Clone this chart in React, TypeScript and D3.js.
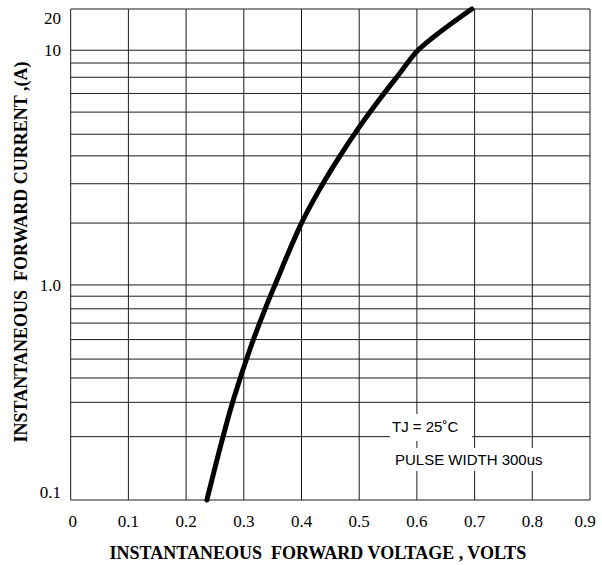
import React from "react";
import * as d3 from "d3";

// forward voltage (V) vs instantaneous forward current (A)
const voltage = [0.236, 0.264, 0.282, 0.312, 0.337, 0.354, 0.4, 0.434, 0.464, 0.5, 0.536, 0.571, 0.602, 0.695];
const current = [0.1, 0.2, 0.31, 0.56, 0.8, 1.0, 2.0, 2.91, 3.9, 5.3, 6.7, 8.3, 10, 20];

const xTicks = [0, 0.1, 0.2, 0.3, 0.4, 0.5, 0.6, 0.7, 0.8, 0.9];
const xTickLabels = ["0", "0.1", "0.2", "0.3", "0.4", "0.5", "0.6", "0.7", "0.8", "0.9"];

const yGrid = [0.1, 0.2, 0.3, 0.4, 0.5, 0.6, 0.7, 0.8, 0.9, 1, 2, 3, 4, 5, 6, 7, 8, 9, 10, 20];
const yTicks = [0.1, 1, 10, 20];
const yTickLabels = ["0.1", "1.0", "10", "20"];

// the printed log grid is not evenly spaced: calibrate it piecewise
const yBreaks = [0.1, 0.2, 0.5, 1, 2, 5, 10, 20];
const yBreakFrac = [0, 0.129, 0.287, 0.438, 0.564, 0.745, 0.916, 1];

const W = 602;
const H = 565;
const left = 70.7;
const right = 590;
const top = 9;
const bottom = 500;

const serif = "Liberation Serif";
const sans = "Liberation Sans";

const App = () => {
  const x = d3.scaleLinear().domain([0, 0.9]).range([left, right]);
  const y = d3
    .scaleLog()
    .domain(yBreaks)
    .range(yBreakFrac.map((f) => bottom - f * (bottom - top)));

  const line = d3
    .line<number>()
    .x((d, i) => x(voltage[i]))
    .y((d) => y(d))
    .curve(d3.curveCatmullRom.alpha(0.5));

  const gridColor = "#1c1c1c";

  return (
    <svg
      width={W}
      height={H}
      style={{ position: "absolute", left: 0, top: 0, display: "block", background: "#fff" }}
    >
      <rect x={0} y={0} width={W} height={H} fill="#fff" />

      {/* horizontal grid */}
      {yGrid.map((v) => (
        <line key={"h" + v} x1={left} x2={right} y1={y(v)} y2={y(v)} stroke={gridColor} strokeWidth={1} />
      ))}
      {/* vertical grid */}
      {xTicks.map((v) => (
        <line key={"v" + v} x1={x(v)} x2={x(v)} y1={top} y2={bottom} stroke={gridColor} strokeWidth={1} />
      ))}

      {/* annotation boxes */}
      <rect x={390} y={414} width={82} height={27} fill="#fff" />
      <rect x={392} y={448} width={160} height={23} fill="#fff" />
      <text x={392} y={432} fontFamily={sans} fontSize={15} fill="#000">
        TJ = 25˚C
      </text>
      <text x={395} y={465} fontFamily={sans} fontSize={15} fill="#000">
        PULSE WIDTH 300us
      </text>

      {/* curve */}
      <path
        d={line(current) || ""}
        fill="none"
        stroke="#000"
        strokeWidth={5}
        strokeLinecap="round"
        strokeLinejoin="round"
      />

      {/* y tick labels */}
      {yTicks.map((v, i) => (
        <text
          key={"yl" + v}
          x={61}
          y={Math.min(Math.max(y(v), top + 9), bottom - 8)}
          dy="0.35em"
          textAnchor="end"
          fontFamily={serif}
          fontSize={17}
          fill="#000"
        >
          {yTickLabels[i]}
        </text>
      ))}

      {/* x tick labels */}
      {xTicks.map((v, i) => (
        <text
          key={"xl" + v}
          x={x(v) + (i === 0 ? 2 : i === xTicks.length - 1 ? -5 : 0)}
          y={527}
          textAnchor="middle"
          fontFamily={serif}
          fontSize={17}
          fill="#000"
        >
          {xTickLabels[i]}
        </text>
      ))}

      {/* axis titles */}
      <text
        x={318}
        y={559}
        textAnchor="middle"
        fontFamily={serif}
        fontSize={18}
        fontWeight="bold"
        fill="#000"
        style={{ whiteSpace: "pre" }}
      >
        {"INSTANTANEOUS  FORWARD VOLTAGE , VOLTS"}
      </text>
      <text
        transform="translate(27,252) rotate(-90)"
        textAnchor="middle"
        fontFamily={serif}
        fontSize={18}
        fontWeight="bold"
        fill="#000"
        style={{ whiteSpace: "pre" }}
      >
        {"INSTANTANEOUS  FORWARD CURRENT ,(A)"}
      </text>
    </svg>
  );
};

export default App;
